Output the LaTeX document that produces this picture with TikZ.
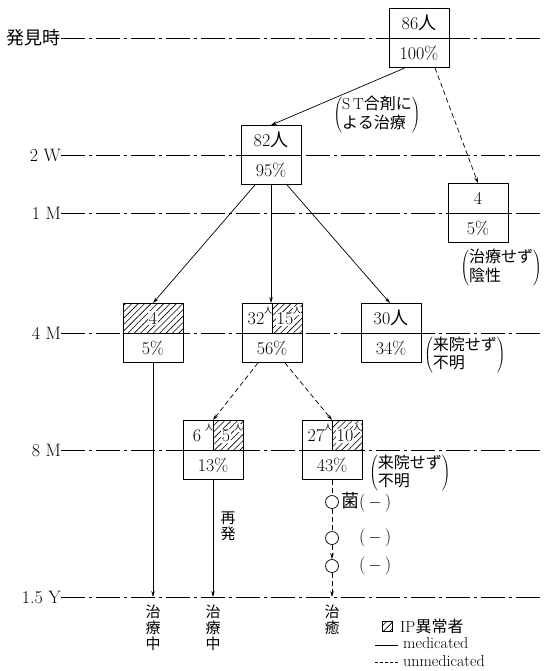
\documentclass[tikz,border=0pt]{standalone}
\usepackage{fontspec}
\newfontfamily\jp{Noto Sans CJK JP}
\usetikzlibrary{arrows.meta, positioning, calc, patterns.meta}
\newcommand{\hito}{{\jp 人}}
\newcommand{\suphito}{{\fontsize{8}{9}\selectfont\jp 人}}

\tikzset{
  timeline/.style={line width=0.7pt, dash pattern=on 24pt off 4pt on 3pt off 4pt},
  hatch/.style={pattern={Lines[angle=45, distance=4.5pt, line width=0.6pt]}},
  box/.style={draw, fill=white, line width=0.8pt, minimum width=60pt,
    minimum height=59pt, inner sep=0pt,
    path picture={\draw[line width=0.8pt] (path picture bounding box.west)
      -- (path picture bounding box.east);}},
  hatchbox/.style={box,
    path picture={\fill[hatch] (path picture bounding box.north west)
      rectangle (path picture bounding box.east);
      \draw[line width=0.8pt] (path picture bounding box.west)
      -- (path picture bounding box.east);}},
  splitbox/.style={box,
    path picture={\fill[hatch] (path picture bounding box.north)
      rectangle (path picture bounding box.east);
      \draw[line width=0.8pt] (path picture bounding box.west)
      -- (path picture bounding box.east);
      \draw[line width=0.5pt] (path picture bounding box.north)
      -- (path picture bounding box.center);}},
  num/.style={fill=white, inner sep=1pt},
  tiny/.style={inner sep=0pt},
  flow/.style={line width=0.7pt, -{Stealth[length=6pt, width=3.5pt]}},
  noflow/.style={flow, dash pattern=on 5pt off 3pt},
  ring/.style={draw, circle, minimum size=13pt, inner sep=0pt, line width=0.7pt},
  note/.style={font=\fontsize{16}{17}\selectfont\jp, inner sep=0pt},
  vlab/.style={font=\fontsize{15}{16}\selectfont\jp, align=center, inner sep=0pt},
  legend/.style={anchor=west, inner sep=0pt, font=\fontsize{16}{18}\selectfont},
}

\begin{document}
\begin{tikzpicture}[x=1pt, y=-1pt, font=\fontsize{18}{20}\selectfont]
  \useasboundingbox (0,0) rectangle (553,671);
  % time axis
  \foreach \nm/\lab/\yy in {t0/{\jp 発見時}/38, t1/{2 W}/155, t2/{1 M}/213,
                            t3/{4 M}/333, t4/{8 M}/450, t5/{1.5 Y}/597}{%
    \node[anchor=east, inner sep=0pt] (\nm) at (61,\yy) {\lab};
    \coordinate (\nm e) at (540,\yy);
    \draw[timeline] (\nm.east) -- (\nm e);}

  % plain boxes
  \foreach \nm/\xx/\yy/\up/\dn in {n86/419/38/86\hito/100\%, n82/271/155/82\hito/95\%,
                                   neg/478/213/4/5\%, rc/391/333/30\hito/34\%}{%
    \node[box] (\nm) at (\xx,\yy) {};
    \node (\nm a) at ($(\nm)+(0,-15)$) {\up};
    \node (\nm b) at ($(\nm)+(0,15)$) {\dn};}

  % hatched boxes
  \node[hatchbox] (ra) at (153,333) {};
  \node[num] (raa) at ($(ra)+(0,-15)$) {4};
  \node (rab) at ($(ra)+(0,15)$) {5\%};

  \foreach \nm/\xx/\yy/\lf/\rt/\dn in {rb/272/333/32/15/56\%, rd/213/450/6/5/13\%,
                                       re/332/450/27/10/43\%}{%
    \node[splitbox] (\nm) at (\xx,\yy) {};
    \node[tiny] (\nm l) at ($(\nm)+(-16,-14)$) {\lf};
    \node[tiny] (\nm ls) at ($(\nm)+(-4,-22)$) {\suphito};
    \node[num] (\nm r) at ($(\nm)+(13,-14)$) {\rt};
    \node[num, inner sep=0pt] (\nm rs) at ($(\nm)+(25,-22)$) {\suphito};
    \node (\nm b) at ($(\nm)+(0,15)$) {\dn};}

  % flows
  \draw[flow] ([xshift=-14pt]n86.south) -- (n82.north);
  \draw[noflow] ([xshift=16pt]n86.south) -- (neg.north);
  \draw[flow] ([xshift=-16pt]n82.south) -- (ra.north);
  \draw[flow] (n82.south) -- (n82.south |- rb.north);
  \draw[flow] ([xshift=16pt]n82.south) -- ([xshift=-1pt]rc.north);
  \draw[noflow] ([xshift=-14pt]rb.south) -- (rd.north);
  \draw[noflow] ([xshift=13pt]rb.south) -- (re.north);
  \draw[flow] (ra.south) -- (ra.south |- t5e);
  \draw[flow] (rd.south) -- (rd.south |- t5e);

  % follow-up of the cured group
  \node[ring] (c1) at (332,502) {};
  \node[ring] (c2) at (332,538) {};
  \node[ring] (c3) at (332,566) {};
  \draw[line width=0.7pt, dash pattern=on 5pt off 3pt] (re.south) -- (c1.north);
  \draw[line width=0.7pt, dash pattern=on 5pt off 3pt] (c1) -- (c2);
  \draw[noflow] (c2) -- (c3);
  \draw[noflow] (c3) -- (c3 |- t5e);
  \node[right=2pt of c1, inner sep=0pt] (c1l) {{\jp 菌}(\,$-$\,)};
  \node[right=20pt of c2, inner sep=0pt] (c2l) {(\,$-$\,)};
  \node[right=20pt of c3, inner sep=0pt] (c3l) {(\,$-$\,)};

  % notes
  \node[note] (stnote) at (377,115)
    {$\left(\begin{tabular}{@{}l@{}}{\rmfamily S\,T}合剤に\\よる治療\end{tabular}\right)$};
  \node[note] (negnote) at (501,268)
    {$\left(\begin{tabular}{@{}l@{}}治療せず\\陰性\end{tabular}\right)$};
  \node[note, anchor=west] (rcnote) at (424,355)
    {$\left(\begin{tabular}{@{}l@{}}来院せず\\不明\end{tabular}\right)$};
  \node[note, anchor=west] (renote) at (369,473)
    {$\left(\begin{tabular}{@{}l@{}}来院せず\\不明\end{tabular}\right)$};

  % outcomes
  \node[vlab, anchor=north] (raend) at ($(ra.south |- t5e)+(0,8)$) {治\\療\\中};
  \node[vlab, anchor=north] (rdend) at ($(rd.south |- t5e)+(0,8)$) {治\\療\\中};
  \node[vlab, anchor=north] (reend) at ($(c3 |- t5e)+(0,8)$) {治\\癒};
  \node[vlab] (relapse) at (228,526) {再\\発};

  % legend
  \node[draw, hatch, minimum size=10pt, inner sep=0pt, line width=0.7pt] (lgbox) at (387,626) {};
  \node[legend] (lgip) at (400,626) {IP{\jp 異常者}};
  \coordinate (lgm1) at (375,645);
  \coordinate (lgm2) at (398,645);
  \draw[line width=0.7pt] (lgm1) -- (lgm2);
  \node[legend] (lgmed) at (403,643) {medicated};
  \coordinate (lgu1) at (375,662);
  \coordinate (lgu2) at (398,662);
  \draw[line width=0.7pt, dash pattern=on 3pt off 2pt] (lgu1) -- (lgu2);
  \node[legend] (lgunmed) at (403,661) {unmedicated};
\end{tikzpicture}
\end{document}
